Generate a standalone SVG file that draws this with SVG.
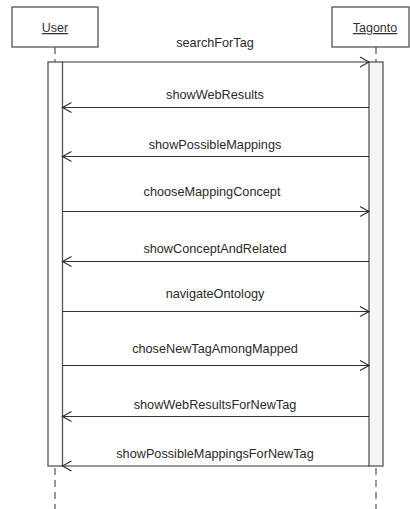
<svg xmlns="http://www.w3.org/2000/svg" width="410" height="509" viewBox="0 0 410 509">
<style>
.box{fill:#fff;stroke:#555;stroke-width:1.3}
.bar{stroke:#555;stroke-width:1.3}
.life{stroke:#555;stroke-width:1.2;stroke-dasharray:7 5;fill:none}
.msg{stroke:#333;stroke-width:1.2;fill:none;marker-end:url(#open)}
.lbl{font-family:"Liberation Sans",Arial,sans-serif;font-size:12.7px;fill:#2a2a2a;text-anchor:middle}
.name{font-family:"Liberation Sans",Arial,sans-serif;font-size:12.5px;fill:#333;text-anchor:middle;text-decoration:underline}
</style>
<defs>
<marker id="open" markerUnits="userSpaceOnUse" markerWidth="12" markerHeight="12" refX="9" refY="5" orient="auto" overflow="visible">
<path d="M0,0 L9,5 L0,10" fill="none" stroke="#333" stroke-width="1.2"/>
</marker>
</defs>
<rect width="410" height="509" fill="#fff"/>
<g id="user">
<rect class="box" x="12" y="7" width="86" height="40"/>
<text class="name" x="55" y="32">User</text>
<line class="life" x1="55" y1="47" x2="55" y2="62"/>
<rect class="bar" x="48" y="62" width="14.5" height="404" fill="#fff"/>
<line class="life" x1="55" y1="468" x2="55" y2="509"/>
</g>
<g id="tagonto">
<rect class="box" x="332" y="7" width="77" height="40"/>
<text class="name" x="375" y="32">Tagonto</text>
<line class="life" x1="376" y1="47" x2="376" y2="62"/>
<rect class="bar" x="369" y="62" width="14" height="404" fill="#f6f6f6"/>
<line class="life" x1="376" y1="468" x2="376" y2="509"/>
</g>
<g id="connectors">
<line class="msg" x1="62.5" y1="62" x2="369" y2="62"/>
<text class="lbl" x="215" y="47">searchForTag</text>
<line class="msg" x1="369" y1="107.5" x2="62.5" y2="107.5"/>
<text class="lbl" x="215" y="99">showWebResults</text>
<line class="msg" x1="369" y1="156.5" x2="62.5" y2="156.5"/>
<text class="lbl" x="215" y="149">showPossibleMappings</text>
<line class="msg" x1="62.5" y1="211.5" x2="369" y2="211.5"/>
<text class="lbl" x="212" y="196">chooseMappingConcept</text>
<line class="msg" x1="369" y1="261.5" x2="62.5" y2="261.5"/>
<text class="lbl" x="215" y="253">showConceptAndRelated</text>
<line class="msg" x1="62.5" y1="311.5" x2="369" y2="311.5"/>
<text class="lbl" x="215" y="298">navigateOntology</text>
<line class="msg" x1="62.5" y1="365.5" x2="369" y2="365.5"/>
<text class="lbl" x="215" y="353">choseNewTagAmongMapped</text>
<line class="msg" x1="369" y1="416.5" x2="62.5" y2="416.5"/>
<text class="lbl" x="215" y="409">showWebResultsForNewTag</text>
<line class="msg" x1="369" y1="466" x2="62.5" y2="466"/>
<text class="lbl" x="215" y="458">showPossibleMappingsForNewTag</text>
</g>
</svg>
